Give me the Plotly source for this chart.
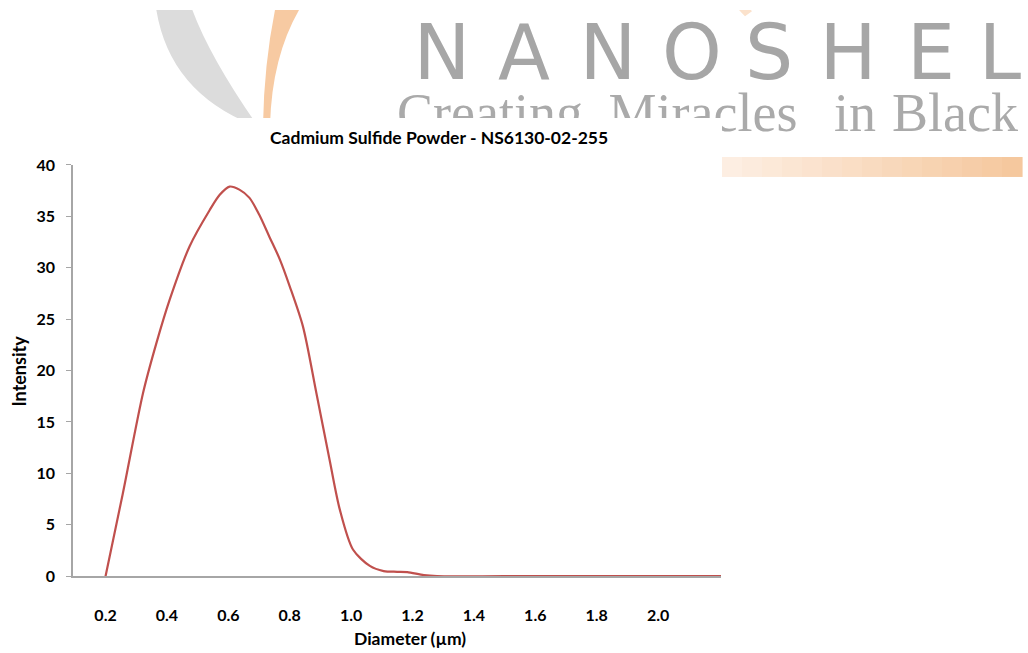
import plotly.graph_objects as go

W, H = 1028, 653

# ---------------- data ----------------
diameter = [0.2, 0.256, 0.322, 0.365, 0.409, 0.474, 0.539, 0.572, 0.604, 0.636,
            0.669, 0.700, 0.734, 0.768, 0.800, 0.843, 0.887, 0.930, 0.963, 1.006,
            1.061, 1.106, 1.15, 1.183, 1.237, 1.28, 1.5, 1.8, 2.0, 2.205]
intensity = [0.0, 8.0, 17.8, 22.6, 26.9, 32.1, 35.6, 37.1, 37.9, 37.6,
             36.8, 35.2, 33.0, 30.8, 28.2, 24.3, 17.8, 11.3, 6.5, 2.6,
             1.0, 0.5, 0.43, 0.4, 0.1, 0.0, 0.0, 0.0, 0.0, 0.0]
x_tick_vals = [0.2, 0.4, 0.6, 0.8, 1.0, 1.2, 1.4, 1.6, 1.8, 2.0]
x_tick_text = ["0.2", "0.4", "0.6", "0.8", "1.0", "1.2", "1.4", "1.6", "1.8", "2.0"]
y_tick_vals = [0, 5, 10, 15, 20, 25, 30, 35, 40]
y_tick_text = ["0", "5", "10", "15", "20", "25", "30", "35", "40"]

title_text = "Cadmium Sulfide Powder - NS6130-02-255"
x_title = "Diameter (µm)"
y_title = "Intensity"

logo_letters = ["N", "A", "N", "O", "S", "H", "E", "L"]
logo_letter_x = [442, 524, 608, 692, 769, 848, 931, 1000]
tagline_words = ["Creating", "Miracles", "in", "Black"]
tagline_x = [490, 703, 855, 955]

FONT = "Lato"

# vertical calibration of the rendered page
SY_OFF, SY_SCALE = 9.74, 0.9727


def to_int(yr):
    return (yr - SY_OFF) / SY_SCALE


def px(xp):
    return xp / W


def py(yr):
    return 1 - to_int(yr) / H


fig = go.Figure()

# ---- watermark layer (subplot xy, screen-pixel coordinates) ----
fig.add_trace(go.Scatter(
    x=logo_letter_x, y=[60] * len(logo_letters), text=logo_letters,
    mode="text", textposition="middle center",
    textfont=dict(family="DejaVu Sans", size=76, color="#a6a6a6"),
    hoverinfo="skip", showlegend=False, xaxis="x", yaxis="y"))
fig.add_trace(go.Scatter(
    x=tagline_x, y=[117] * len(tagline_words), text=tagline_words,
    mode="text", textposition="middle center",
    textfont=dict(family="Liberation Serif", size=54, color="#aaaaaa"),
    hoverinfo="skip", showlegend=False, xaxis="x", yaxis="y"))

# ---- cover (subplot x2y2) ----
fig.add_trace(go.Scatter(
    x=[0, 1, 1, 0, 0], y=[0, 0, 1, 1, 0], mode="lines", fill="toself",
    fillcolor="white", line=dict(width=0, color="white"),
    hoverinfo="skip", showlegend=False, xaxis="x2", yaxis="y2"))

# ---- main chart (subplot x3y3) ----
fig.add_trace(go.Scatter(
    x=diameter, y=intensity, mode="lines",
    line=dict(color="#C0504D", width=2.2, shape="spline", smoothing=0.8),
    showlegend=False, xaxis="x3", yaxis="y3"))

shapes = []
# grey crescent
shapes.append(dict(type="path", xref="x", yref="y", layer="below",
                   path="M 155,0 Q 165,90 253,125 L 257,125 Q 205,50 189,0 Z",
                   fillcolor="#dcdcdc", line=dict(width=0)))
# orange crescent
shapes.append(dict(type="path", xref="x", yref="y", layer="below",
                   path="M 277,0 Q 264,60 263,125 L 270,125 Q 272,50 305,0 Z",
                   fillcolor="#f7caa2", line=dict(width=0)))
# small orange tip near top
shapes.append(dict(type="path", xref="x", yref="y", layer="below",
                   path="M 731,0 Q 737,8 745,16 L 752,11 Q 747,5 750,0 Z",
                   fillcolor="#fbe2cc", line=dict(width=0)))
# orange gradient bar
n_strips = 15
c0 = (253, 238, 226)
c1 = (245, 200, 158)
x0b, x1b = 722, 1022
for i in range(n_strips):
    t = i / (n_strips - 1)
    col = tuple(int(round(c0[k] + (c1[k] - c0[k]) * t)) for k in range(3))
    xa = x0b + (x1b - x0b) * i / n_strips
    xb = x0b + (x1b - x0b) * (i + 1) / n_strips + 0.6
    shapes.append(dict(type="rect", xref="x", yref="y", layer="below",
                       x0=xa, x1=xb, y0=157, y1=177,
                       fillcolor="rgb(%d,%d,%d)" % col, line=dict(width=0)))

annotations = [
    dict(text=title_text, x=px(439), y=py(137), xref="paper", yref="paper",
         showarrow=False, xanchor="center", yanchor="middle",
         font=dict(family=FONT, size=17.5, color="#000000", weight="bold")),
    dict(text=x_title, x=px(410), y=py(639), xref="paper", yref="paper",
         showarrow=False, xanchor="center", yanchor="middle",
         font=dict(family=FONT, size=17.5, color="#000000", weight="bold")),
    dict(text=y_title, x=px(19), y=py(372), xref="paper", yref="paper",
         showarrow=False, xanchor="center", yanchor="middle", textangle=-90,
         font=dict(family=FONT, size=18, color="#000000", weight="bold")),
]

tick_font = dict(family=FONT, size=16, color="#000000", weight="bold")

fig.update_layout(
    width=W, height=H,
    margin=dict(l=0, r=0, t=0, b=0, pad=0),
    paper_bgcolor="white", plot_bgcolor="rgba(0,0,0,0)",
    showlegend=False,
    shapes=shapes,
    annotations=annotations,
    xaxis=dict(domain=[0, 1], range=[0, W], visible=False, fixedrange=True),
    yaxis=dict(domain=[0, 1], range=[H * SY_SCALE + SY_OFF, SY_OFF],
               visible=False, fixedrange=True),
    xaxis2=dict(domain=[0, 722 / W], range=[0, 1], visible=False, anchor="y2"),
    yaxis2=dict(domain=[0, (H - to_int(118)) / H], range=[0, 1], visible=False,
                anchor="x2"),
    xaxis3=dict(domain=[73 / W, 721 / W], range=[0.094, 2.205], anchor="y3",
                tickmode="array", tickvals=x_tick_vals, ticktext=x_tick_text,
                showline=True, linecolor="#a6a6a6", linewidth=1.5,
                ticks="", showgrid=False, zeroline=False,
                ticklabelstandoff=24, tickfont=tick_font),
    yaxis3=dict(domain=[(H - to_int(577)) / H, (H - to_int(165)) / H],
                range=[0, 40], anchor="x3",
                tickmode="array", tickvals=y_tick_vals, ticktext=y_tick_text,
                showline=True, linecolor="#a6a6a6", linewidth=1.5,
                ticks="outside", ticklen=5, tickcolor="#a6a6a6", tickwidth=1,
                showgrid=False, zeroline=False, ticklabelstandoff=8,
                tickfont=tick_font),
)

fig.write_html("out.html", config={"displayModeBar": False},
               post_script="document.body.style.margin='0';")
